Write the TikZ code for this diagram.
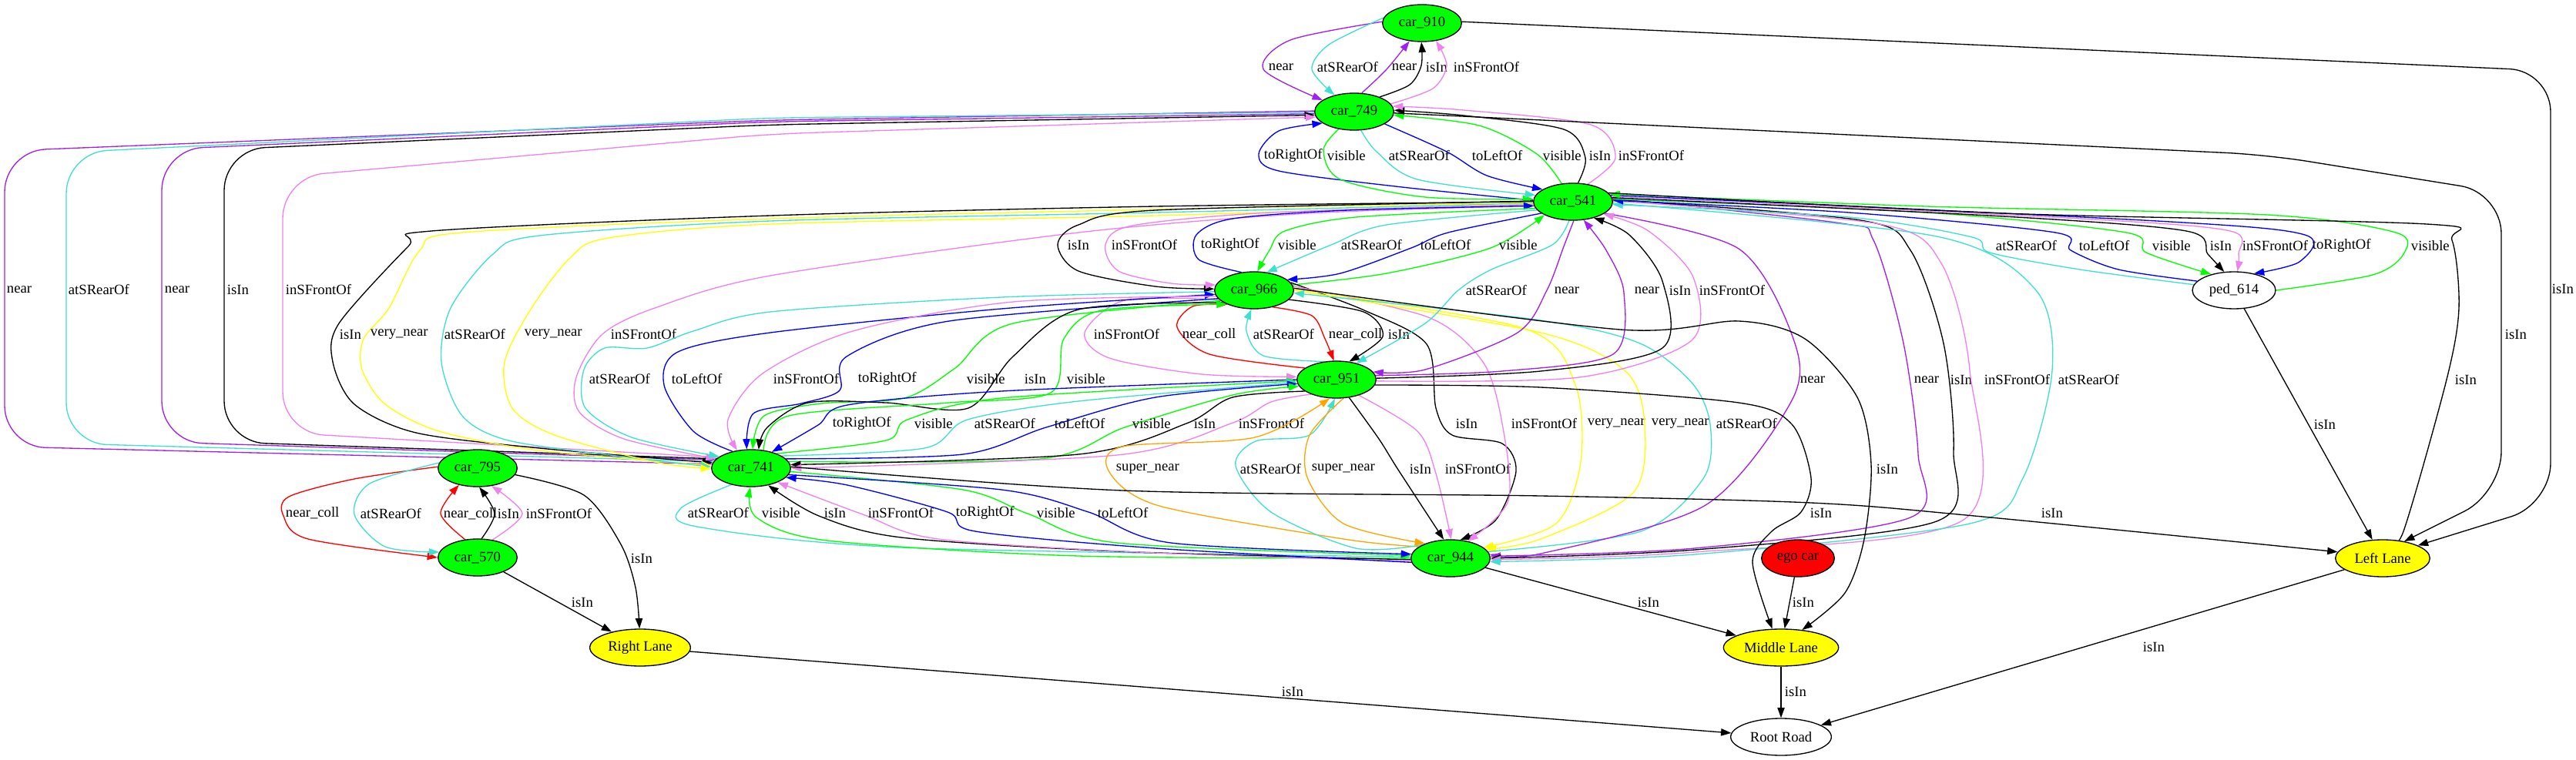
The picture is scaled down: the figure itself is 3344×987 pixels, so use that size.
\documentclass[tikz,border=0pt]{standalone}
\usepackage{fontspec}
\setmainfont{Liberation Serif}
\usetikzlibrary{arrows.meta,shapes.geometric}
\definecolor{cpurple}{HTML}{A020F0}
\definecolor{cturq}{HTML}{40E0D0}
\definecolor{cviolet}{HTML}{EE82EE}
\definecolor{cgreen}{HTML}{00FF00}
\definecolor{cblue}{HTML}{0000FF}
\definecolor{cyellow}{HTML}{FFFF00}
\definecolor{cred}{HTML}{FF0000}
\definecolor{corange}{HTML}{FFA500}
\pgfdeclarelayer{edges}
\pgfsetlayers{edges,main}
\tikzset{
  nd/.style={ellipse, draw=black, line width=1pt, inner sep=0pt, minimum height=36pt, font=\fontsize{14pt}{16pt}\selectfont},
  car/.style={nd, fill=cgreen, minimum width=77pt},
  lane/.style={nd, fill=cyellow},
  e/.style={line width=1pt, -{Triangle[length=10pt,width=7pt]}},
  pnear/.style={e, color=cpurple},
  patsr/.style={e, color=cturq},
  pinsf/.style={e, color=cviolet},
  pisin/.style={e, color=black},
  ptor/.style={e, color=cblue},
  ptol/.style={e, color=cblue},
  pvis/.style={e, color=cgreen},
  pvnear/.style={e, color=cyellow},
  pncoll/.style={e, color=cred},
  psnear/.style={e, color=corange},
  lbl/.style={anchor=west, inner sep=0.5pt, text=black, font=\fontsize{14pt}{16pt}\selectfont},
}
\newcounter{lc}
\newcommand\edg[4]{\draw[#1] plot[smooth] coordinates {#2};\stepcounter{lc}\node[lbl] (L\number\value{lc}) at (#3) {#4};}
\newcommand\redg[4]{\draw[#1, rounded corners=40pt] #2;\stepcounter{lc}\node[lbl] (L\number\value{lc}) at (#3) {#4};}
\newcommand\sedg[5]{\draw[#1] (#2) -- (#3);\stepcounter{lc}\node[lbl] (L\number\value{lc}) at (#4) {#5};}
\begin{document}
\begin{tikzpicture}[x=0.75pt,y=-0.75pt]
\useasboundingbox (0,0) rectangle (3344,987);
% nodes
\node[car] (n910) at (1846,30) {car\_910};
\node[car] (n749) at (1758,145) {car\_749};
\node[car] (n541) at (2042,262) {car\_541};
\node[car] (n966) at (1628,377) {car\_966};
\node[nd, minimum width=81pt] (n614) at (2900,377) {ped\_614};
\node[car] (n951) at (1735,493) {car\_951};
\node[car] (n795) at (620,608) {car\_795};
\node[car] (n741) at (975,608) {car\_741};
\node[car] (n570) at (620,724) {car\_570};
\node[car] (n944) at (1883,725) {car\_944};
\node[nd, fill=cred, minimum width=71pt] (nego) at (2334,725) {ego car};
\node[lane, minimum width=92pt] (nleft) at (3093,725) {Left Lane};
\node[lane, minimum width=98pt] (nright) at (831,841) {Right Lane};
\node[lane, minimum width=112pt] (nmid) at (2312,841) {Middle Lane};
\node[nd, minimum width=98pt] (nroot) at (2312,957) {Root Road};
\begin{pgfonlayer}{edges}
% 910 <-> 749
\edg{pnear}{(n910.178) (1675,52) (1640,90) (n749.160)}{1646,87}{near}
\edg{patsr}{(n910.172) (1725,58) (1703,90) (n749.140)}{1709,87}{atSRearOf}
\edg{pnear}{(n749.68) (1800,90) (n910.235)}{1806,87}{near}
\edg{pisin}{(n749.30) (1830,110) (1845,85) (n910.268)}{1850,87}{isIn}
\edg{pinsf}{(n749.12) (1860,115) (1878,85) (n910.308)}{1886,87}{inSFrontOf}
% 749 <-> 541
\edg{ptor}{(n541.178) (1820,243) (1660,222) (1634,200) (1660,170) (n749.200)}{1640,202}{toRightOf}
\edg{pvis}{(n749.228) (1718,195) (1740,233) (1850,256) (n541.176)}{1722,202}{visible}
\edg{patsr}{(n749.290) (1787,197) (1840,233) (n541.170)}{1802,202}{atSRearOf}
\edg{ptol}{(n749.338) (1878,197) (1930,228) (n541.158)}{1910,202}{toLeftOf}
\edg{pvis}{(n541.122) (1995,200) (1920,163) (n749.355)}{2002,202}{visible}
\edg{pisin}{(n541.75) (2058,205) (2030,168) (1900,150) (n749.2)}{2062,202}{isIn}
\edg{pinsf}{(n541.50) (2097,205) (2065,162) (1900,143) (n749.8)}{2100,202}{inSFrontOf}
% 749 <-> 741 far left
\redg{pnear}{(n749.179) -- (1000,156) -- (6,196) -- (6,580) -- (n741.174)}{8,376}{near}
\redg{patsr}{(n749.181) -- (1000,153) -- (86,198) -- (86,576) -- (n741.170)}{88,376}{atSRearOf}
\redg{pnear}{(n749.183) -- (1000,158) -- (210,194) -- (210,574) -- (n741.167)}{213,376}{near}
\redg{pisin}{(n741.165) -- (291,574) -- (291,194) -- (1000,162) -- (n749.185)}{294,376}{isIn}
\redg{pinsf}{(n741.162) -- (367,562) -- (367,230) -- (1000,174) -- (n749.188)}{370,376}{inSFrontOf}
% 541 -> 741
\edg{pisin}{(n541.180) (1500,268) (1000,280) (560,300) (530,320) (440,420) (432,470) (460,525) (540,562) (700,582) (n741.172)}{440,434}{isIn}
\edg{pvnear}{(n541.181) (1500,272) (1000,284) (600,302) (545,325) (505,400) (472,440) (470,480) (500,525) (570,560) (700,585) (n741.176)}{480,434}{very\_near}
\edg{patsr}{(n541.182) (1500,276) (1000,287) (700,306) (640,330) (585,400) (573,470) (600,540) (660,572) (800,592) (n741.178)}{576,434}{atSRearOf}
\edg{pvnear}{(n541.183) (1500,280) (1000,291) (790,309) (740,335) (690,400) (655,470) (665,530) (720,565) (850,600) (n741.181)}{680,434}{very\_near}
\edg{pinsf}{(n541.186) (1700,277) (1400,302) (1000,358) (850,400) (782,434) (748,490) (752,535) (810,570) (n741.165)}{792,434}{inSFrontOf}
% 541 <-> 966
\edg{pisin}{(n541.179) (1500,273) (1400,292) (1373,318) (1400,352) (1500,372) (n966.178)}{1385,318}{isIn}
\edg{pinsf}{(n541.184) (1650,276) (1470,293) (1435,318) (1452,352) (1520,368) (n966.172)}{1442,318}{inSFrontOf}
\edg{ptor}{(n966.125) (1556,337) (1553,305) (1600,284) (1750,273) (n541.186)}{1558,318}{toRightOf}
\edg{pvis}{(n541.190) (1760,282) (1668,300) (1648,325) (n966.80)}{1658,318}{visible}
\edg{patsr}{(n541.193) (1800,292) (1728,318) (n966.55)}{1740,318}{atSRearOf}
\edg{ptol}{(n541.200) (1880,302) (1832,322) (1740,355) (n966.18)}{1843,318}{toLeftOf}
\edg{pvis}{(n966.8) (1800,355) (1935,322) (n541.205)}{1945,318}{visible}
% 966 <-> 951
\edg{pinsf}{(n966.195) (1460,390) (1408,432) (1440,465) (1560,486) (n951.176)}{1419,434}{inSFrontOf}
\edg{pncoll}{(n951.160) (1570,460) (1528,425) (1548,398) (n966.208)}{1534,434}{near\_coll}
\edg{patsr}{(n951.125) (1640,462) (1618,430) (n966.262)}{1626,434}{atSRearOf}
\edg{pncoll}{(n966.318) (1703,410) (1720,440) (n951.98)}{1724,434}{near\_coll}
\edg{pisin}{(n966.345) (1770,405) (1795,437) (n951.55)}{1801,434}{isIn}
% 966 <-> 741
\edg{patsr}{(n966.182) (1300,386) (1000,405) (900,430) (840,452) (785,452) (758,480) (760,530) (820,568) (n741.160)}{764,492}{atSRearOf}
\edg{ptol}{(n741.138) (900,560) (862,500) (880,457) (1000,432) (1300,401) (n966.186)}{871,492}{toLeftOf}
\edg{pinsf}{(n966.189) (1315,392) (1107,430) (990,485) (945,545) (n741.128)}{1003,492}{inSFrontOf}
\edg{ptor}{(n966.193) (1232,417) (1099,463) (1090,507) (1040,524) (978,537) (n741.103)}{1113,492}{toRightOf}
\edg{pvis}{(n966.197) (1315,420) (1240,478) (1174,517) (1066,524) (992,540) (n741.85)}{1254,492}{visible}
\edg{pisin}{(n966.202) (1400,402) (1315,463) (1257,530) (1150,523) (1049,523) (996,555) (n741.68)}{1329,492}{isIn}
\edg{pvis}{(n741.55) (1024,540) (1232,523) (1364,510) (1381,440) (1430,403) (n966.207)}{1384,492}{visible}
% 951 <-> 741
\edg{ptor}{(n951.180) (1300,508) (1100,526) (1062,552) (n741.38)}{1080,550}{toRightOf}
\edg{pvis}{(n741.30) (1150,572) (1178,545) (1300,517) (n951.182)}{1186,550}{visible}
\edg{patsr}{(n741.22) (1200,582) (1256,545) (1400,521) (n951.184)}{1264,550}{atSRearOf}
\edg{ptol}{(n741.15) (1250,590) (1358,555) (1500,516) (n951.186)}{1368,550}{toLeftOf}
\edg{pvis}{(n741.10) (1350,596) (1460,555) (1600,513) (n951.190)}{1469,550}{visible}
\edg{pisin}{(n951.200) (1600,516) (1540,550) (1400,590) (n741.5)}{1549,550}{isIn}
\edg{pinsf}{(n951.210) (1650,522) (1598,550) (1450,591) (n741.0)}{1607,550}{inSFrontOf}
% 741 <-> 944
\edg{patsr}{(n741.220) (884,660) (905,684) (1170,711) (n944.178)}{892,666}{atSRearOf}
\edg{pvis}{(n944.180) (1400,722) (1074,702) (982,672) (n741.268)}{988,666}{visible}
\edg{pisin}{(n944.182) (1450,716) (1170,698) (1063,670) (n741.315)}{1069,666}{isIn}
\edg{pinsf}{(n944.184) (1500,718) (1218,700) (1120,668) (n741.332)}{1126,666}{inSFrontOf}
\edg{ptor}{(n944.186) (1500,712) (1266,690) (1230,665) (1100,630) (n741.345)}{1240,666}{toRightOf}
\edg{pvis}{(n741.355) (1250,636) (1334,667) (1450,705) (n944.176)}{1345,666}{visible}
\edg{ptol}{(n741.350) (1300,636) (1413,665) (1520,705) (n944.174)}{1424,666}{toLeftOf}
% 951 <-> 944
\edg{psnear}{(n944.160) (1744,700) (1505,657) (1440,613) (1457,580) (1629,568) (n951.250)}{1448,609}{super\_near}
\edg{patsr}{(n944.155) (1760,712) (1650,665) (1604,605) (1630,573) (1700,565) (n951.265)}{1609,609}{atSRearOf}
\edg{psnear}{(n951.290) (1700,565) (1697,620) (1744,680) (n944.150)}{1702,609}{super\_near}
\edg{pisin}{(n951.305) (1790,570) (1815,610) (n944.110)}{1829,609}{isIn}
\edg{pinsf}{(n951.325) (1840,560) (1864,615) (n944.88)}{1875,609}{inSFrontOf}
% 966 <-> 944
\edg{pisin}{(n966.12) (1771,403) (1852,447) (1864,530) (1885,565) (1950,576) (1968,612) (1942,675) (n944.62)}{1889,550}{isIn}
\edg{pinsf}{(n966.6) (1854,412) (1925,470) (1950,550) (1958,650) (n944.45)}{1961,550}{inSFrontOf}
\edg{pvnear}{(n966.2) (1980,427) (2045,500) (2052,600) (2020,680) (n944.18)}{2060,550}{very\_near}
\edg{pvnear}{(n966.0) (2000,432) (2110,482) (2135,551) (2120,640) (2000,700) (n944.14)}{2143,550}{very\_near}
\edg{patsr}{(n944.10) (2130,690) (2212,620) (2220,551) (2197,498) (2129,446) (2000,416) (n966.356)}{2227,550}{atSRearOf}
% 541 -> 944
\edg{pnear}{(n541.340) (2257,323) (2328,440) (2326,520) (2214,656) (2000,719) (n944.6)}{2336,493}{near}
\edg{pnear}{(n541.5) (2390,290) (2432,312) (2471,446) (2490,590) (2480,672) (2200,712) (n944.3)}{2484,493}{near}
\edg{pisin}{(n541.3) (2415,286) (2480,325) (2523,446) (2536,586) (2514,677) (2200,714) (n944.0)}{2531,493}{isIn}
\edg{pinsf}{(n541.1) (2440,291) (2520,342) (2557,481) (2549,675) (2200,717) (n944.358)}{2575,493}{inSFrontOf}
\edg{patsr}{(n541.358) (2514,307) (2643,377) (2664,481) (2626,621) (2557,680) (2200,720) (n944.355)}{2671,493}{atSRearOf}
% 541 <-> 951
\edg{patsr}{(n541.258) (2015,318) (1936,350) (1893,377) (1850,420) (n951.40)}{1902,377}{atSRearOf}
\edg{pnear}{(n541.272) (2030,320) (2008,377) (1970,432) (1850,480) (n951.12)}{2017,377}{near}
\edg{pnear}{(n951.6) (1950,482) (2094,460) (2108,380) (2085,325) (n541.300)}{2121,377}{near}
\edg{pisin}{(n951.2) (2000,482) (2158,452) (2158,365) (2115,305) (n541.322)}{2166,377}{isIn}
\edg{pinsf}{(n951.358) (2050,490) (2196,442) (2198,360) (2140,300) (n541.338)}{2205,377}{inSFrontOf}
% 541 <-> ped_614
\edg{patsr}{(n614.172) (2700,350) (2583,328) (2560,308) (2400,282) (n541.356)}{2590,319}{atSRearOf}
\edg{ptol}{(n614.166) (2750,350) (2688,325) (2668,302) (2400,276) (n541.2)}{2698,319}{toLeftOf}
\edg{pvis}{(n541.4) (2500,276) (2760,302) (2786,328) (n614.145)}{2793,319}{visible}
\edg{pisin}{(n541.6) (2600,281) (2838,300) (2866,330) (n614.118)}{2868,319}{isIn}
\edg{pinsf}{(n541.8) (2700,284) (2895,300) (2906,330) (n614.80)}{2910,319}{inSFrontOf}
\edg{ptor}{(n541.10) (2800,287) (2992,305) (2985,340) (n614.40)}{3001,319}{toRightOf}
\edg{pvis}{(n614.0) (3080,357) (3120,330) (3110,302) (2943,279) (2500,268) (n541.12)}{3129,319}{visible}
% isIn to lanes
\redg{pisin}{(n910.2) -- (3311,92) -- (3311,655) -- (nleft.20)}{3312,375}{isIn}
\redg{pisin}{(n749.358) -- (2943,201) -- (3247,250) -- (3247,640) -- (nleft.38)}{3251,434}{isIn}
\edg{pisin}{(n541.14) (2600,277) (3150,291) (3183,312) (3192,400) (3176,493) (3120,690) (nleft.72)}{3186,493}{isIn}
\sedg{pisin}{n614}{nleft}{3003,551}{isIn}
\edg{pisin}{(n741.2) (1457,637) (2000,644) (2351,653) (2563,670) (nleft.172)}{2649,666}{isIn}
\edg{pisin}{(n951.352) (2000,503) (2257,523) (2326,551) (2351,621) (2338,665) (2300,690) (2275,730) (nmid.115)}{2349,666}{isIn}
\edg{pisin}{(n966.3) (2103,428) (2257,417) (2343,440) (2411,516) (2429,603) (2420,700) (2395,770) (nmid.40)}{2435,609}{isIn}
\sedg{pisin}{nego}{nmid}{2326,782}{isIn}
\sedg{pisin}{n944}{nmid}{2125,782}{isIn}
\edg{pisin}{(n795.350) (758,643) (806,707) (825,763) (nright.92)}{818,725}{isIn}
\sedg{pisin}{n570}{nright}{741,782}{isIn}
\sedg{pisin}{nright}{nroot}{1663,898}{isIn}
\sedg{pisin}{nmid}{nroot}{2316,898}{isIn}
\sedg{pisin}{nleft}{nroot}{2781,840}{isIn}
% 795 <-> 570
\edg{pncoll}{(n795.178) (460,622) (375,645) (368,670) (400,700) (n570.180)}{370,666}{near\_coll}
\edg{patsr}{(n795.172) (480,628) (460,668) (500,710) (n570.172)}{467,667}{atSRearOf}
\edg{pncoll}{(n570.125) (572,667) (n795.222)}{575,667}{near\_coll}
\edg{pisin}{(n570.78) (642,667) (n795.275)}{645,667}{isIn}
\edg{pinsf}{(n570.50) (678,667) (n795.308)}{682,667}{inSFrontOf}
\end{pgfonlayer}
\end{tikzpicture}
\end{document}
